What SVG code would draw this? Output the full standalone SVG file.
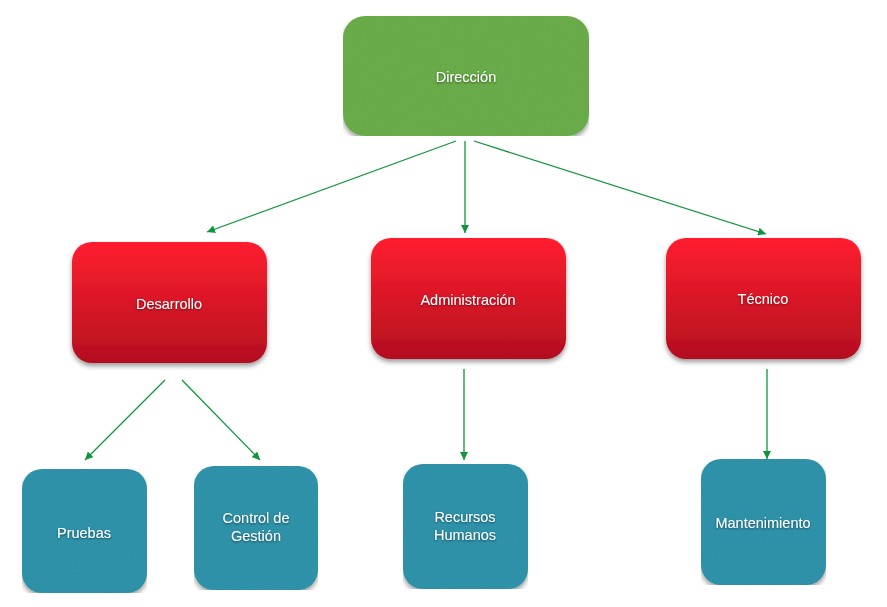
<svg xmlns="http://www.w3.org/2000/svg" width="887" height="607" viewBox="0 0 887 607">
<style>
.lbl{font-family:"Liberation Sans",Arial,sans-serif;font-size:14.5px;fill:#ffffff;text-anchor:middle;filter:url(#ts)}
.conn line{stroke:#10963a;stroke-width:1.3;marker-end:url(#ah)}
.box{filter:url(#sh)}
</style>
<defs>
<linearGradient id="red" x1="0" y1="0" x2="0" y2="1">
<stop offset="0" stop-color="#ff1f2f"/>
<stop offset="1" stop-color="#b30f1f"/>
</linearGradient>
<filter id="sh" x="-10%" y="-10%" width="120%" height="125%">
<feGaussianBlur in="SourceAlpha" stdDeviation="2.5"/>
<feOffset dx="0" dy="3" result="b"/>
<feComponentTransfer in="b" result="s"><feFuncA type="linear" slope="0.4"/></feComponentTransfer>
<feMerge><feMergeNode in="s"/><feMergeNode in="SourceGraphic"/></feMerge>
</filter>
<filter id="tex" x="0" y="0" width="100%" height="100%">
<feTurbulence type="fractalNoise" baseFrequency="0.9" numOctaves="2" seed="3" result="n"/>
<feColorMatrix in="n" type="matrix" values="0 0 0 0 0  0 0 0 0 0  0 0 0 0 0  0 0 0 0.14 0" result="dn"/>
<feComposite in="dn" in2="SourceGraphic" operator="in" result="d"/>
<feGaussianBlur in="SourceAlpha" stdDeviation="2.5"/>
<feOffset dx="0" dy="3" result="b"/>
<feComponentTransfer in="b" result="s"><feFuncA type="linear" slope="0.4"/></feComponentTransfer>
<feMerge><feMergeNode in="s"/><feMergeNode in="SourceGraphic"/><feMergeNode in="d"/></feMerge>
</filter>
<filter id="ts" x="-10%" y="-30%" width="120%" height="170%">
<feGaussianBlur in="SourceAlpha" stdDeviation="1"/>
<feOffset dx="0" dy="1" result="b"/>
<feComponentTransfer in="b" result="s"><feFuncA type="linear" slope="0.5"/></feComponentTransfer>
<feMerge><feMergeNode in="s"/><feMergeNode in="SourceGraphic"/></feMerge>
</filter>
<marker id="ah" viewBox="0 0 10 10" refX="10" refY="5" markerWidth="8" markerHeight="8" markerUnits="userSpaceOnUse" orient="auto">
<path d="M0,0 L10,5 L0,10 z" fill="#10963a"/>
</marker>
</defs>
<rect width="887" height="607" fill="#ffffff"/>
<g class="conn" id="connectors">
<line x1="456" y1="141" x2="207" y2="232"/>
<line x1="465" y1="141" x2="465" y2="233"/>
<line x1="474" y1="141" x2="766" y2="234"/>
<line x1="165" y1="380" x2="85" y2="460"/>
<line x1="182" y1="380" x2="260" y2="460"/>
<line x1="464" y1="369" x2="464" y2="460"/>
<line x1="767" y1="369" x2="767" y2="459"/>
</g>
<g id="direccion">
<rect x="343" y="16" width="246" height="120" rx="22" fill="#6db04e" filter="url(#tex)"/>
<text class="lbl" x="466" y="82">Dirección</text>
</g>
<g id="desarrollo">
<rect class="box" x="72" y="242" width="195" height="121" rx="20" fill="url(#red)"/>
<text class="lbl" x="169" y="309">Desarrollo</text>
</g>
<g id="administracion">
<rect class="box" x="371" y="238" width="195" height="121" rx="20" fill="url(#red)"/>
<text class="lbl" x="468" y="305">Administración</text>
</g>
<g id="tecnico">
<rect class="box" x="666" y="238" width="195" height="121" rx="20" fill="url(#red)"/>
<text class="lbl" x="763" y="304">Técnico</text>
</g>
<g id="pruebas">
<rect x="22" y="469" width="125" height="124" rx="20" fill="#3396ae" filter="url(#tex)"/>
<text class="lbl" x="84" y="538">Pruebas</text>
</g>
<g id="control">
<rect x="194" y="466" width="124" height="124" rx="20" fill="#3396ae" filter="url(#tex)"/>
<text class="lbl" x="256" y="523">Control de</text>
<text class="lbl" x="256" y="541">Gestión</text>
</g>
<g id="recursos">
<rect x="403" y="464" width="125" height="125" rx="20" fill="#3396ae" filter="url(#tex)"/>
<text class="lbl" x="465" y="522">Recursos</text>
<text class="lbl" x="465" y="540">Humanos</text>
</g>
<g id="mantenimiento">
<rect x="701" y="459" width="125" height="126" rx="20" fill="#3396ae" filter="url(#tex)"/>
<text class="lbl" x="763" y="528">Mantenimiento</text>
</g>
</svg>
